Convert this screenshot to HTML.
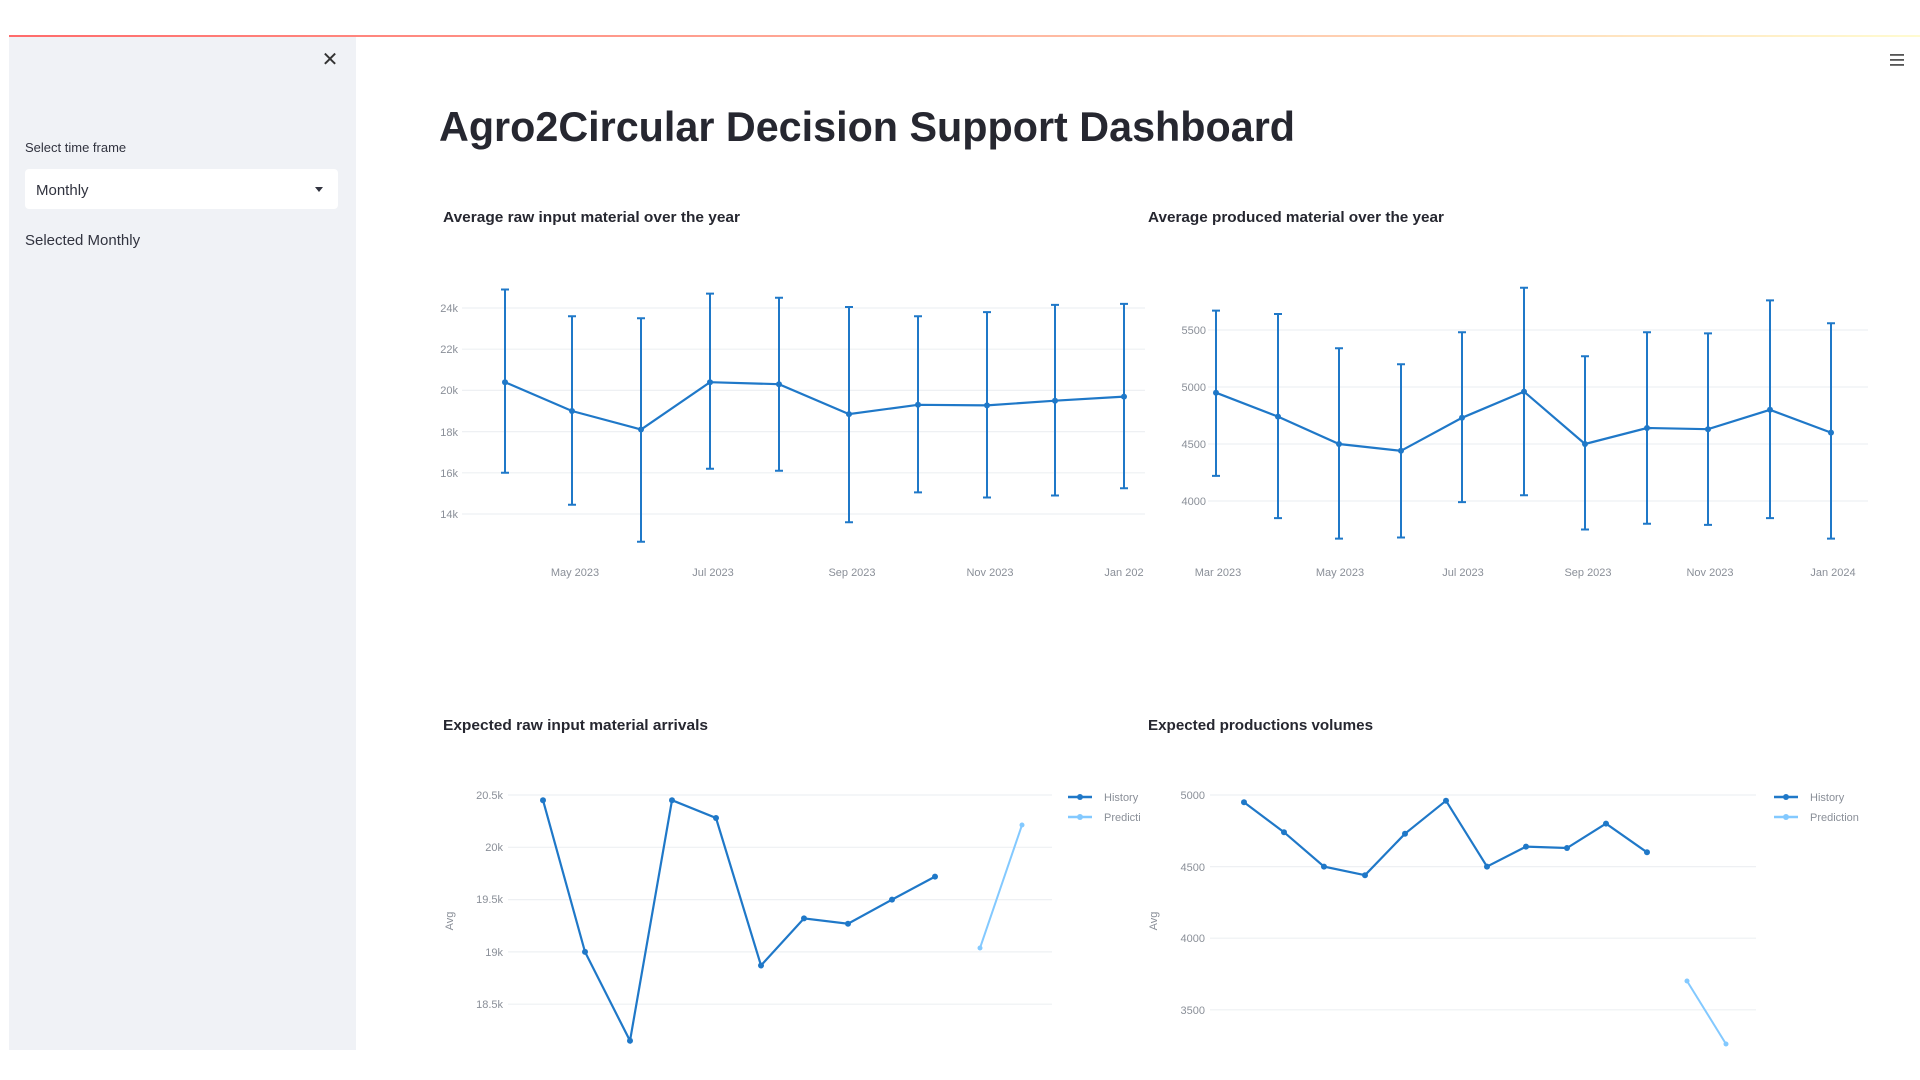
<!DOCTYPE html>
<html><head><meta charset="utf-8"><style>
html,body{margin:0;padding:0;background:#fff;}
svg{display:block;font-family:"Liberation Sans",sans-serif;}
.g{stroke:#eef0f3;stroke-width:1.2}
.t{fill:#8a8f98;font-size:11px}
.s{stroke:#1f78c8;stroke-width:2.2;fill:none}
.e{stroke:#1f78c8;stroke-width:2}
.d{fill:#1f78c8}
</style></head><body>
<svg width="1920" height="1080" viewBox="0 0 1920 1080">
<defs><linearGradient id="tg" x1="0" x2="1"><stop offset="0" stop-color="#ff6b6b"/><stop offset="1" stop-color="#fffbd0"/></linearGradient></defs>
<rect x="9" y="35" width="1911" height="2" fill="url(#tg)"/>
<rect x="9" y="37" width="347" height="1013" fill="#f0f2f6"/>
<text x="330" y="66" font-size="20" fill="#333" text-anchor="middle">✕</text>
<g fill="#555"><rect x="1890" y="54" width="14" height="1.8"/><rect x="1890" y="59" width="14" height="1.8"/><rect x="1890" y="64" width="14" height="1.8"/></g>
<text x="25" y="152" font-size="13" fill="#31333f">Select time frame</text>
<rect x="25" y="169" width="313" height="40" rx="4" fill="#fff"/>
<text x="36" y="195" font-size="15" fill="#31333f">Monthly</text>
<path d="M315 187 l8 0 l-4 5z" fill="#31333f"/>
<text x="25" y="245" font-size="15" fill="#31333f">Selected Monthly</text>
<text x="439" y="141" font-size="42" font-weight="bold" fill="#262730" textLength="856" lengthAdjust="spacingAndGlyphs">Agro2Circular Decision Support Dashboard</text>
<text x="443" y="222" font-size="15" font-weight="bold" fill="#262730" textLength="297" lengthAdjust="spacingAndGlyphs">Average raw input material over the year</text>
<text x="1148" y="222" font-size="15" font-weight="bold" fill="#262730" textLength="296" lengthAdjust="spacingAndGlyphs">Average produced material over the year</text>
<text x="443" y="730" font-size="15" font-weight="bold" fill="#262730" textLength="265" lengthAdjust="spacingAndGlyphs">Expected raw input material arrivals</text>
<text x="1148" y="730" font-size="15" font-weight="bold" fill="#262730" textLength="225" lengthAdjust="spacingAndGlyphs">Expected productions volumes</text>

<!-- Chart 1 -->
<g class="g"><line x1="462" x2="1145" y1="308" y2="308"/><line x1="462" x2="1145" y1="349.2" y2="349.2"/><line x1="462" x2="1145" y1="390.4" y2="390.4"/><line x1="462" x2="1145" y1="431.6" y2="431.6"/><line x1="462" x2="1145" y1="472.8" y2="472.8"/><line x1="462" x2="1145" y1="514" y2="514"/></g>
<g class="t" text-anchor="end"><text x="458" y="312">24k</text><text x="458" y="353">22k</text><text x="458" y="394">20k</text><text x="458" y="436">18k</text><text x="458" y="477">16k</text><text x="458" y="518">14k</text></g>
<g class="t" text-anchor="middle"><text x="575" y="576">May 2023</text><text x="713" y="576">Jul 2023</text><text x="852" y="576">Sep 2023</text><text x="990" y="576">Nov 2023</text><text x="1124" y="576">Jan 202</text></g>
<g class="e">
<line x1="505" x2="505" y1="289.5" y2="472.8"/><line x1="572" x2="572" y1="316.2" y2="504.7"/><line x1="641" x2="641" y1="318.3" y2="541.8"/><line x1="710" x2="710" y1="293.6" y2="468.7"/><line x1="779" x2="779" y1="297.7" y2="470.7"/><line x1="849" x2="849" y1="307" y2="522.2"/><line x1="918" x2="918" y1="316.2" y2="492.4"/><line x1="987" x2="987" y1="312.1" y2="497.5"/><line x1="1055" x2="1055" y1="304.9" y2="495.5"/><line x1="1124" x2="1124" y1="303.9" y2="488.3"/>
<path d="M501 289.5h8M501 472.8h8M568 316.2h8M568 504.7h8M637 318.3h8M637 541.8h8M706 293.6h8M706 468.7h8M775 297.7h8M775 470.7h8M845 307h8M845 522.2h8M914 316.2h8M914 492.4h8M983 312.1h8M983 497.5h8M1051 304.9h8M1051 495.5h8M1120 303.9h8M1120 488.3h8"/>
</g>
<polyline class="s" points="505,382.2 572,411 641,429.5 710,382.2 779,384.2 849,414.1 918,404.8 987,405.4 1055,400.7 1124,396.6"/>
<g class="d"><circle cx="505" cy="382.2" r="3"/><circle cx="572" cy="411" r="3"/><circle cx="641" cy="429.5" r="3"/><circle cx="710" cy="382.2" r="3"/><circle cx="779" cy="384.2" r="3"/><circle cx="849" cy="414.1" r="3"/><circle cx="918" cy="404.8" r="3"/><circle cx="987" cy="405.4" r="3"/><circle cx="1055" cy="400.7" r="3"/><circle cx="1124" cy="396.6" r="3"/></g>

<!-- Chart 2 -->
<g class="g"><line x1="1208" x2="1868" y1="330" y2="330"/><line x1="1208" x2="1868" y1="387" y2="387"/><line x1="1208" x2="1868" y1="444" y2="444"/><line x1="1208" x2="1868" y1="501" y2="501"/></g>
<g class="t" text-anchor="end"><text x="1206" y="334">5500</text><text x="1206" y="391">5000</text><text x="1206" y="448">4500</text><text x="1206" y="505">4000</text></g>
<g class="t" text-anchor="middle"><text x="1218" y="576">Mar 2023</text><text x="1340" y="576">May 2023</text><text x="1463" y="576">Jul 2023</text><text x="1588" y="576">Sep 2023</text><text x="1710" y="576">Nov 2023</text><text x="1833" y="576">Jan 2024</text></g>
<g class="e">
<line x1="1216" x2="1216" y1="310.6" y2="475.9"/><line x1="1278" x2="1278" y1="314" y2="518.1"/><line x1="1339" x2="1339" y1="348.2" y2="538.6"/><line x1="1401" x2="1401" y1="364.2" y2="537.5"/><line x1="1462" x2="1462" y1="332.3" y2="502.1"/><line x1="1524" x2="1524" y1="287.8" y2="495.3"/><line x1="1585" x2="1585" y1="356.2" y2="529.5"/><line x1="1647" x2="1647" y1="332.3" y2="523.8"/><line x1="1708" x2="1708" y1="333.4" y2="524.9"/><line x1="1770" x2="1770" y1="300.4" y2="518.1"/><line x1="1831" x2="1831" y1="323.2" y2="538.6"/>
<path d="M1212 310.6h8M1212 475.9h8M1274 314h8M1274 518.1h8M1335 348.2h8M1335 538.6h8M1397 364.2h8M1397 537.5h8M1458 332.3h8M1458 502.1h8M1520 287.8h8M1520 495.3h8M1581 356.2h8M1581 529.5h8M1643 332.3h8M1643 523.8h8M1704 333.4h8M1704 524.9h8M1766 300.4h8M1766 518.1h8M1827 323.2h8M1827 538.6h8"/>
</g>
<polyline class="s" points="1216,392.7 1278,416.6 1339,444 1401,450.8 1462,417.8 1524,391.6 1585,444 1647,428 1708,429.2 1770,409.8 1831,432.6"/>
<g class="d"><circle cx="1216" cy="392.7" r="3"/><circle cx="1278" cy="416.6" r="3"/><circle cx="1339" cy="444" r="3"/><circle cx="1401" cy="450.8" r="3"/><circle cx="1462" cy="417.8" r="3"/><circle cx="1524" cy="391.6" r="3"/><circle cx="1585" cy="444" r="3"/><circle cx="1647" cy="428" r="3"/><circle cx="1708" cy="429.2" r="3"/><circle cx="1770" cy="409.8" r="3"/><circle cx="1831" cy="432.6" r="3"/></g>

<!-- Chart 3 -->
<g class="g"><line x1="508" x2="1052" y1="795" y2="795"/><line x1="508" x2="1052" y1="847.3" y2="847.3"/><line x1="508" x2="1052" y1="899.6" y2="899.6"/><line x1="508" x2="1052" y1="951.9" y2="951.9"/><line x1="508" x2="1052" y1="1004.2" y2="1004.2"/></g>
<g class="t" text-anchor="end"><text x="503" y="799">20.5k</text><text x="503" y="851">20k</text><text x="503" y="903">19.5k</text><text x="503" y="956">19k</text><text x="503" y="1008">18.5k</text></g>
<text class="t" transform="translate(453,921) rotate(-90)" text-anchor="middle">Avg</text>
<polyline class="s" points="543,800.2 585,951.9 630,1040.8 672,800.2 716,818 761,965.5 804,918.4 848,923.7 892,899.6 935,876.6"/>
<g class="d"><circle cx="543" cy="800.2" r="3"/><circle cx="585" cy="951.9" r="3"/><circle cx="630" cy="1040.8" r="3"/><circle cx="672" cy="800.2" r="3"/><circle cx="716" cy="818" r="3"/><circle cx="761" cy="965.5" r="3"/><circle cx="804" cy="918.4" r="3"/><circle cx="848" cy="923.7" r="3"/><circle cx="892" cy="899.6" r="3"/><circle cx="935" cy="876.6" r="3"/></g>
<line x1="980" y1="948" x2="1022" y2="825" stroke="#83c9ff" stroke-width="2"/>
<circle cx="980" cy="948" r="2.5" fill="#83c9ff"/><circle cx="1022" cy="825" r="2.5" fill="#83c9ff"/>
<line x1="1068" x2="1092" y1="797" y2="797" stroke="#1f78c8" stroke-width="2.5"/><circle cx="1080" cy="797" r="3" fill="#1f78c8"/>
<text class="t" x="1104" y="801" fill="#555">History</text>
<line x1="1068" x2="1092" y1="817" y2="817" stroke="#83c9ff" stroke-width="2.5"/><circle cx="1080" cy="817" r="3" fill="#83c9ff"/>
<text class="t" x="1104" y="821" fill="#555">Predicti</text>

<!-- Chart 4 -->
<g class="g"><line x1="1210" x2="1756" y1="795" y2="795"/><line x1="1210" x2="1756" y1="866.6" y2="866.6"/><line x1="1210" x2="1756" y1="938.2" y2="938.2"/><line x1="1210" x2="1756" y1="1009.8" y2="1009.8"/></g>
<g class="t" text-anchor="end"><text x="1205" y="799">5000</text><text x="1205" y="871">4500</text><text x="1205" y="942">4000</text><text x="1205" y="1014">3500</text></g>
<text class="t" transform="translate(1157,921) rotate(-90)" text-anchor="middle">Avg</text>
<polyline class="s" points="1244,802.2 1284,832.2 1324,866.6 1365,875.2 1405,833.7 1446,800.7 1487,866.6 1526,846.6 1567,848 1606,823.6 1647,852.3"/>
<g class="d"><circle cx="1244" cy="802.2" r="3"/><circle cx="1284" cy="832.2" r="3"/><circle cx="1324" cy="866.6" r="3"/><circle cx="1365" cy="875.2" r="3"/><circle cx="1405" cy="833.7" r="3"/><circle cx="1446" cy="800.7" r="3"/><circle cx="1487" cy="866.6" r="3"/><circle cx="1526" cy="846.6" r="3"/><circle cx="1567" cy="848" r="3"/><circle cx="1606" cy="823.6" r="3"/><circle cx="1647" cy="852.3" r="3"/></g>
<line x1="1687" y1="981" x2="1726" y2="1044" stroke="#83c9ff" stroke-width="2"/>
<circle cx="1687" cy="981" r="2.5" fill="#83c9ff"/><circle cx="1726" cy="1044" r="2.5" fill="#83c9ff"/>
<line x1="1774" x2="1798" y1="797" y2="797" stroke="#1f78c8" stroke-width="2.5"/><circle cx="1786" cy="797" r="3" fill="#1f78c8"/>
<text class="t" x="1810" y="801" fill="#555">History</text>
<line x1="1774" x2="1798" y1="817" y2="817" stroke="#83c9ff" stroke-width="2.5"/><circle cx="1786" cy="817" r="3" fill="#83c9ff"/>
<text class="t" x="1810" y="821" fill="#555">Prediction</text>
<rect x="0" y="1050" width="1920" height="30" fill="#fff"/>
</svg>
</body></html>
